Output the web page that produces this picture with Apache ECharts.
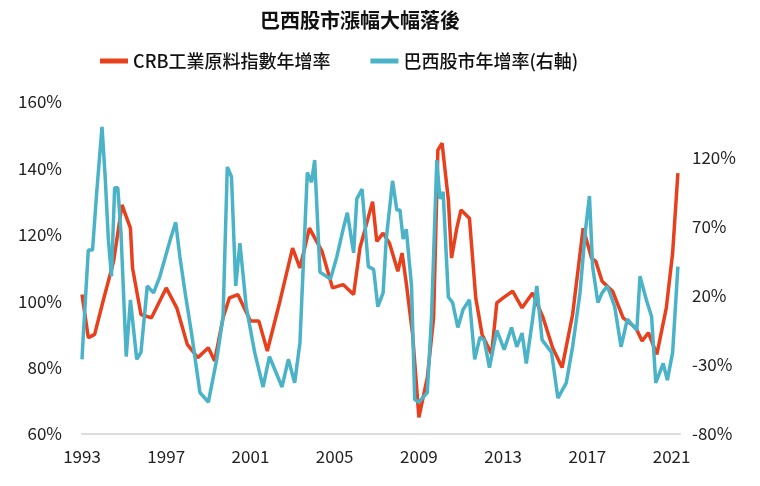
<!DOCTYPE html>
<html><head><meta charset="utf-8">
<script src="https://cdn.jsdelivr.net/npm/echarts@6/dist/echarts.min.js"></script>
<style>html,body{margin:0;padding:0;background:#fff}#c{width:760px;height:486px}</style>
</head><body><div id="c"></div>
<script>
const title = '巴西股市漲幅大幅落後';
const redName = 'CRB工業原料指數年增率';
const blueName = '巴西股市年增率(右軸)';
const xTicks = [1993,1997,2001,2005,2009,2013,2017,2021];
const redX = [1993.0,1993.3,1993.6,1994.0,1994.5,1994.9,1995.3,1995.4,1995.8,1996.3,1997.0,1997.5,1998.0,1998.5,1999.0,1999.3,1999.7,2000.0,2000.4,2001.0,2001.4,2001.8,2002.4,2003.0,2003.35,2003.8,2004.4,2004.9,2005.4,2005.9,2006.2,2006.5,2006.8,2007.0,2007.3,2007.6,2008.0,2008.2,2008.4,2008.7,2009.0,2009.4,2009.7,2009.9,2010.1,2010.4,2010.55,2010.8,2011.0,2011.4,2011.7,2012.0,2012.45,2012.7,2013.0,2013.45,2013.9,2014.4,2014.9,2015.35,2015.8,2016.3,2016.8,2017.2,2017.4,2017.7,2018.2,2018.7,2019.3,2019.6,2019.9,2020.3,2020.75,2021.05,2021.3];
const redY = [102,89,90,100,112,129,122,110,96,95,104,98,87,83,86,82,95,101,102,94,94,85,100,116,110,122,115,104,105,102,116,123,130,118,120.5,117.5,109,114.5,105.5,90,65,77,95,145.5,147.6,130.5,113,122,127.5,125,101,90,84,99.5,101,103,98,102.5,95,86,80,96,122,113,112,106,103,95,92,88,90.5,84,98,114.5,138.6];
const blueX = [1993.0,1993.05,1993.3,1993.5,1993.7,1993.95,1994.1,1994.25,1994.4,1994.55,1994.7,1994.85,1995.1,1995.3,1995.6,1995.8,1996.1,1996.4,1996.7,1997.2,1997.45,1997.65,1997.9,1998.2,1998.6,1999.0,1999.4,1999.7,1999.9,2000.1,2000.3,2000.5,2000.8,2001.2,2001.6,2001.9,2002.5,2002.8,2003.1,2003.35,2003.7,2003.9,2004.05,2004.3,2004.8,2005.1,2005.4,2005.6,2005.9,2006.05,2006.3,2006.6,2006.85,2007.05,2007.3,2007.45,2007.75,2007.95,2008.1,2008.25,2008.4,2008.65,2008.8,2009.0,2009.4,2009.6,2009.85,2010.0,2010.15,2010.4,2010.6,2010.85,2011.1,2011.4,2011.65,2011.9,2012.1,2012.35,2012.7,2013.05,2013.4,2013.65,2013.9,2014.1,2014.4,2014.6,2014.85,2015.3,2015.6,2016.0,2016.3,2016.65,2016.9,2017.1,2017.25,2017.5,2017.7,2017.95,2018.3,2018.6,2018.9,2019.35,2019.5,2019.8,2020.05,2020.25,2020.6,2020.8,2021.05,2021.3];
const blueY = [-26,-12,53,53,95,142,106,61,34,98,98,66,-24,17,-26,-21,27,22,34,61,73,48,22,-7,-50,-57,-26,5,113,106,27,58,12,-21,-46,-24,-46,-26,-43,-14,109,102,118,37,32,48,68,80,51,90,97,41,39,12,22,61,103,82,82,61,68,27,-55,-57,-50,5,118,90,95,19,15,-3,10,17,-26,-10,-12,-32,-5,-19,-3,-17,-7,-29,3,27,-12,-21,-54,-43,-17,22,66,92,41,15,22,27,12,-17,3,-5,34,17,5,-43,-29,-41,-21,41];
const redData = redX.map((x,i)=>[x,redY[i]]);
const blueData = blueX.map((x,i)=>[x,blueY[i]]);
const RED='#e8401c', BLUE='#4ab3c8';
const font='"Noto Sans CJK TC","Noto Sans",sans-serif';
const chart = echarts.init(document.getElementById('c'));
chart.setOption({
  animation:false,
  textStyle:{fontFamily:font},
  title:{text:title,left:355,top:5,textAlign:'center',textStyle:{fontSize:20,fontWeight:'bold',color:'#111',fontFamily:font}},
  legend:{top:47,left:95,itemGap:40,itemWidth:28,itemHeight:5,icon:'rect',textStyle:{fontSize:18,color:'#111',fontFamily:font,fontWeight:500},
    data:[redName,blueName]},
  grid:{left:82,right:80,top:102,bottom:52},
  xAxis:{type:'value',min:1993,max:2021.4,interval:4,
    axisLine:{onZero:false,lineStyle:{color:'#ddd',width:2}},axisTick:{show:false},splitLine:{show:false},
    axisLabel:{color:'#222',fontSize:17,margin:14,showMaxLabel:false,formatter:v=>xTicks.includes(v)?String(v):''}},
  yAxis:[
    {type:'value',min:60,max:160,interval:20,splitLine:{show:false},axisLine:{show:false},axisTick:{show:false},
     axisLabel:{color:'#222',fontSize:17,margin:20,formatter:'{value}%'}},
    {type:'value',min:-80,max:160,interval:50,splitLine:{show:false},axisLine:{show:false},axisTick:{show:false},
     axisLabel:{color:'#222',fontSize:17,margin:12,showMaxLabel:false,formatter:'{value}%'}}
  ],
  series:[
    {name:redName,type:'line',yAxisIndex:0,data:redData,showSymbol:false,color:RED,lineStyle:{width:3.5,color:RED},z:2},
    {name:blueName,type:'line',yAxisIndex:1,data:blueData,showSymbol:false,color:BLUE,lineStyle:{width:3.5,color:BLUE},z:3}
  ]
});
</script></body></html>
